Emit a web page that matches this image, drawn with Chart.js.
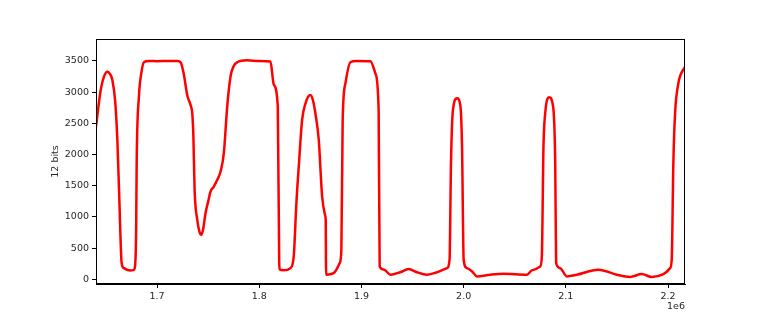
<!DOCTYPE html>
<html>
<head>
<meta charset="utf-8">
<script src="https://cdn.jsdelivr.net/npm/chart.js@4.4.0/dist/chart.umd.min.js"></script>
<style>
  body { margin: 0; background: #fff; }
  canvas { display: block; }
</style>
</head>
<body>
<canvas id="myChart" width="761" height="320"></canvas>
<script>
// x positions (sample index)
const xValues = [
  1.6402e6, 1.6448e6, 1.6480e6, 1.6513e6, 1.6540e6, 1.6562e6, 1.6590e6, 1.6611e6, 1.6630e6, 1.6653e6,
  1.6675e6, 1.6710e6, 1.6741e6, 1.6770e6, 1.6783e6, 1.6795e6, 1.6800e6, 1.6822e6, 1.6845e6, 1.6871e6,
  1.6920e6, 1.7000e6, 1.7100e6, 1.7200e6, 1.7230e6, 1.7260e6, 1.7295e6, 1.7330e6, 1.7344e6, 1.7355e6,
  1.7367e6, 1.7393e6, 1.7415e6, 1.7432e6, 1.7450e6, 1.7474e6, 1.7500e6, 1.7523e6, 1.7555e6, 1.7590e6,
  1.7621e6, 1.7653e6, 1.7686e6, 1.7718e6, 1.7750e6, 1.7784e6, 1.7881e6, 1.8000e6, 1.8109e6, 1.8142e6,
  1.8181e6, 1.8195e6, 1.8200e6, 1.8240e6, 1.8305e6, 1.8337e6, 1.8363e6, 1.8390e6, 1.8419e6, 1.8452e6,
  1.8500e6, 1.8525e6, 1.8549e6, 1.8582e6, 1.8615e6, 1.8647e6, 1.8650e6, 1.8654e6, 1.8728e6, 1.8787e6,
  1.8803e6, 1.8816e6, 1.8843e6, 1.8891e6, 1.8950e6, 1.9087e6, 1.9136e6, 1.9168e6, 1.9178e6, 1.9217e6,
  1.9283e6, 1.9380e6, 1.9462e6, 1.9543e6, 1.9641e6, 1.9739e6, 1.9837e6, 1.9862e6, 1.9876e6, 1.9895e6,
  1.9935e6, 1.9967e6, 1.9984e6, 2.0000e6, 2.0032e6, 2.0081e6, 2.0130e6, 2.0260e6, 2.0390e6, 2.0619e6,
  2.0668e6, 2.0749e6, 2.0765e6, 2.0781e6, 2.0798e6, 2.0837e6, 2.0873e6, 2.0896e6, 2.0905e6, 2.0944e6,
  2.1010e6, 2.1108e6, 2.1319e6, 2.1499e6, 2.1629e6, 2.1743e6, 2.1841e6, 2.1955e6, 2.2020e6, 2.2036e6,
  2.2052e6, 2.2069e6, 2.2101e6, 2.2166e6
];

// 12 bit readings
const yValues = [
  2448, 3035, 3250, 3328, 3290, 3195, 2850, 2235, 1300, 262,
  180, 150, 144, 150, 200, 800, 1862, 2928, 3300, 3480,
  3500, 3495, 3500, 3500, 3480, 3300, 2950, 2780, 2662, 2300,
  1435, 955, 760, 715, 800, 1062, 1250, 1408, 1488, 1600,
  1728, 2022, 2768, 3248, 3420, 3480, 3510, 3500, 3490, 3120,
  2768, 258, 160, 145, 180, 368, 1222, 1900, 2555, 2822,
  2955, 2870, 2662, 2235, 1328, 1008, 950, 75, 100, 262,
  475, 2555, 3142, 3480, 3500, 3495, 3302, 2715, 208, 160,
  75, 115, 166, 115, 75, 115, 180, 315, 1862, 2715,
  2902, 2795, 2128, 315, 180, 130, 48, 75, 90, 75,
  144, 208, 368, 2128, 2662, 2918, 2795, 1862, 262, 180,
  48, 75, 155, 75, 40, 85, 40, 85, 180, 315,
  1862, 2662, 3142, 3408
];

const xTicks = [1.7e6, 1.8e6, 1.9e6, 2.0e6, 2.1e6, 2.2e6];
const yTicks = [0, 500, 1000, 1500, 2000, 2500, 3000, 3500];

const xMin = 1.6402e6, xMax = 2.2166e6;
const yMin = -74, yMax = 3852;

const points = xValues.map((x, i) => ({x: x, y: yValues[i]}));

const FONT = 'DejaVu Sans';
const FONT_SIZE = 9.5;

// box round the plot plus the 12 bits / 1e6 labels
const framePlugin = {
  id: 'frame',
  afterDraw(chart) {
    const ctx = chart.ctx;
    const a = chart.chartArea;
    ctx.save();
    ctx.strokeStyle = '#000';
    ctx.lineWidth = 1;
    ctx.strokeRect(a.left + 0.5, a.top + 0.5, a.right - a.left - 1, a.bottom - a.top - 1);
    ctx.fillStyle = '#262626';
    ctx.font = FONT_SIZE + 'px ' + FONT;
    ctx.textAlign = 'right';
    ctx.textBaseline = 'top';
    ctx.fillText('1e6', a.right, 302);
    ctx.translate(56, (a.top + a.bottom) / 2);
    ctx.rotate(-Math.PI / 2);
    ctx.textAlign = 'center';
    ctx.textBaseline = 'middle';
    ctx.fillText('12 bits', 0, 0);
    ctx.restore();
  }
};

new Chart(document.getElementById('myChart').getContext('2d'), {
  type: 'line',
  data: {
    datasets: [{
      data: points,
      borderColor: '#ff0000',
      borderWidth: 2.5,
      pointRadius: 0,
      fill: false,
      cubicInterpolationMode: 'monotone'
    }]
  },
  options: {
    responsive: false,
    animation: false,
    layout: { padding: { left: 0, right: 76, top: 39, bottom: 0 } },
    plugins: { legend: { display: false }, tooltip: { enabled: false } },
    scales: {
      x: {
        type: 'linear',
        min: xMin,
        max: xMax,
        afterFit(scale) { scale.height = 36; },
        afterBuildTicks(scale) { scale.ticks = xTicks.map(v => ({value: v})); },
        grid: { drawOnChartArea: false, drawTicks: true, tickLength: 4, tickColor: '#000' },
        border: { display: true, color: '#000' },
        ticks: {
          padding: 3,
          color: '#262626',
          font: { family: FONT, size: FONT_SIZE },
          maxRotation: 0,
          autoSkip: false,
          callback: v => (v / 1e6).toFixed(1)
        }
      },
      y: {
        min: yMin,
        max: yMax,
        afterFit(scale) { scale.width = 96; },
        afterBuildTicks(scale) { scale.ticks = yTicks.map(v => ({value: v})); },
        grid: { drawOnChartArea: false, drawTicks: true, tickLength: 4, tickColor: '#000' },
        border: { display: true, color: '#000' },
        ticks: {
          padding: 3,
          color: '#262626',
          autoSkip: false,
          font: { family: FONT, size: FONT_SIZE },
          callback: v => String(v)
        }
      }
    }
  },
  plugins: [framePlugin]
});
</script>
</body>
</html>
